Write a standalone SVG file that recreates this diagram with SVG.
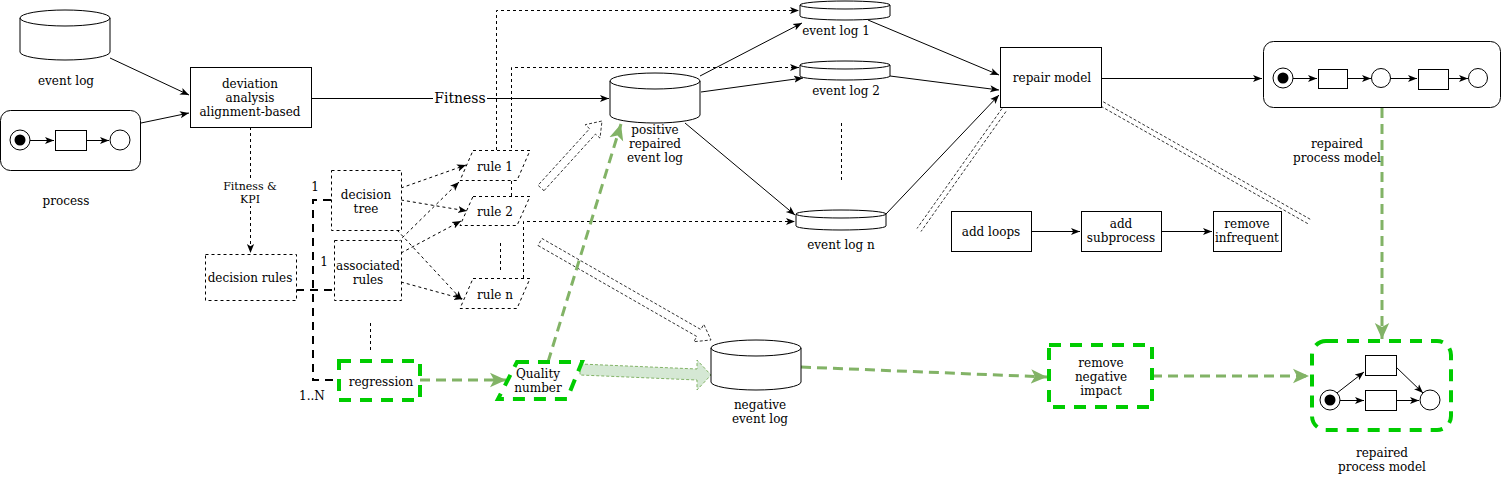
<svg xmlns="http://www.w3.org/2000/svg" width="1502" height="480" viewBox="0 0 1502 480">
<style>
text{font-family:"DejaVu Serif","Liberation Serif",serif;font-size:12px;fill:#000;text-anchor:middle}
.box{fill:#fff;stroke:#000;stroke-width:1}
.dbox{fill:#fff;stroke:#000;stroke-width:1;stroke-dasharray:3 3}
.gbox{fill:#fff;stroke:#00CC00;stroke-width:4;stroke-dasharray:12 9}
.ln{fill:none;stroke:#000;stroke-width:1}
.dl{fill:none;stroke:#000;stroke-width:1;stroke-dasharray:3 3}
.thick{fill:none;stroke:#000;stroke-width:2;stroke-dasharray:8 6}
.gl{fill:none;stroke:#82b366;stroke-width:3;stroke-dasharray:10 6}
.hol{fill:#fff;stroke:#000;stroke-width:0.8;stroke-dasharray:3 2}
.link{fill:none;stroke:#000;stroke-width:0.8;stroke-dasharray:3 2}
</style>
<defs>
<marker id="a" viewBox="0 0 10 10" markerWidth="9" markerHeight="9" markerUnits="userSpaceOnUse" refX="10" refY="5" orient="auto"><path d="M0,1 L10,5 L0,9 L2.5,5 z" fill="#000" stroke="none"/></marker>
<marker id="g" viewBox="0 0 10 10" markerWidth="16" markerHeight="16" markerUnits="userSpaceOnUse" refX="10" refY="5" orient="auto"><path d="M0,0.5 L10,5 L0,9.5 L2.5,5 z" fill="#82b366" stroke="none"/></marker>
</defs>

<g id="connectors">
  <path class="ln" d="M110,58 L189,95" marker-end="url(#a)"/>
  <path class="ln" d="M141,123 L189,113" marker-end="url(#a)"/>
  <path class="ln" d="M311,98.5 L609,98.5" marker-end="url(#a)"/>
  <path class="dl" d="M250.5,127 L250.5,253" marker-end="url(#a)"/>
  <path class="thick" d="M296,290 H334"/>
  <path class="thick" d="M331,200 H313 V380 H337"/>
  <path class="dl" d="M401,188 L466,165" marker-end="url(#a)"/>
  <path class="dl" d="M401,200 L467,211" marker-end="url(#a)"/>
  <path class="dl" d="M397,230 L462,300" marker-end="url(#a)"/>
  <path class="dl" d="M398,242 L459,182" marker-end="url(#a)"/>
  <path class="dl" d="M401,253 L461,221" marker-end="url(#a)"/>
  <path class="dl" d="M401,282 L463,299" marker-end="url(#a)"/>
  <path class="dl" d="M496.5,150 V10.5 H799" marker-end="url(#a)"/>
  <path class="dl" d="M511.5,196 V67.5 H799" marker-end="url(#a)"/>
  <path class="dl" d="M523.5,278 V221.5 H795" marker-end="url(#a)"/>
  <path class="dl" d="M370.5,323 V350"/>
  <path class="dl" d="M500.5,243 V270"/>
  <path class="dl" d="M841.5,123 V180"/>
  <path class="ln" d="M700,76 L802,23" marker-end="url(#a)"/>
  <path class="ln" d="M701,92 L803,78" marker-end="url(#a)"/>
  <path class="ln" d="M685,123 L795,215" marker-end="url(#a)"/>
  <path class="ln" d="M868,20 L999,75" marker-end="url(#a)"/>
  <path class="ln" d="M890,76 L999,90" marker-end="url(#a)"/>
  <path class="ln" d="M886,214 L999,95" marker-end="url(#a)"/>
  <path class="ln" d="M1101,78.5 L1262,78.5" marker-end="url(#a)"/>
  <path class="link" d="M1006,111.5 L921,231.5 M1002,108.5 L917,228.5"/>
  <path class="link" d="M1100.8,106.2 L1308.8,224.2 M1103.2,101.8 L1311.2,219.8"/>
  <path class="ln" d="M1031,231.5 L1080,231.5" marker-end="url(#a)"/>
  <path class="ln" d="M1161,231.5 L1212,231.5" marker-end="url(#a)"/>
  <polygon class="hol" points="544,190.7 595.5,134.1 600,138.1 602,121 585.2,124.7 589.6,128.7 538,185.3"/>
  <polygon class="hol" points="538,245.5 696.8,336.5 693.8,341.7 711,340 703.8,324.3 700.8,329.5 542,238.5"/>
  <path class="gl" d="M420,380 L506,380" marker-end="url(#g)"/>
  <path class="gl" d="M548,362 L621,124" marker-end="url(#g)"/>
  <polygon points="580,364 697,369 697,360 711,375 697,390 697,380 580,375" fill="#d5e8d4" stroke="#82b366" stroke-width="1" stroke-dasharray="3 2"/>
  <path class="gl" d="M801,367 L1047,377" marker-end="url(#g)"/>
  <path class="gl" d="M1152,376 L1309,376" marker-end="url(#g)"/>
  <path class="gl" d="M1382,108 L1382,339" marker-end="url(#g)"/>
</g>

<g id="event-log">
  <path class="box" d="M20,18 A45,8 0 0 1 110,18 V52 A45,8 0 0 1 20,52 Z"/>
  <path class="ln" d="M20,18 A45,8 0 0 0 110,18"/>
  <text x="66" y="85">event log</text>
</g>

<g id="process">
  <rect class="box" x="0.5" y="110.5" width="140" height="60" rx="10"/>
  <circle cx="20" cy="140" r="10" class="box"/>
  <circle cx="20" cy="140" r="5.5" fill="#000"/>
  <rect class="box" x="55.5" y="130.5" width="31" height="20"/>
  <circle cx="120" cy="140" r="10" class="box"/>
  <path class="ln" d="M30,140.5 L54,140.5" marker-end="url(#a)"/>
  <path class="ln" d="M86,140.5 L109,140.5" marker-end="url(#a)"/>
  <text x="66" y="205">process</text>
</g>

<g id="deviation">
  <rect class="box" x="190.5" y="67.5" width="121" height="60"/>
  <text x="250" y="88">deviation</text>
  <text x="250" y="102">analysis</text>
  <text x="250" y="116">alignment-based</text>
</g>

<g id="fitness-label">
  <rect x="433" y="90" width="54" height="16" fill="#fff"/>
  <text x="460" y="103" style="font-size:14px">Fitness</text>
</g>

<g id="fitness-kpi-label">
  <rect x="222" y="180" width="56" height="26" fill="#fff"/>
  <text x="250" y="190" style="font-size:11px">Fitness &amp;</text>
  <text x="250" y="203" style="font-size:11px">KPI</text>
</g>

<g id="decision-rules">
  <rect class="dbox" x="205.5" y="254.5" width="91" height="46"/>
  <text x="250" y="282">decision rules</text>
</g>

<g id="decision-tree">
  <rect class="dbox" x="331.5" y="170.5" width="70" height="60"/>
  <text x="366" y="199">decision</text>
  <text x="366" y="213">tree</text>
</g>

<g id="associated-rules">
  <rect class="dbox" x="334.5" y="240.5" width="67" height="60"/>
  <text x="368" y="270">associated</text>
  <text x="368" y="284">rules</text>
</g>

<g id="multiplicities">
  <text x="315" y="191">1</text>
  <text x="324" y="266">1</text>
  <text x="312" y="400">1..N</text>
</g>

<g id="rule-1">
  <polygon class="dbox" points="473,150.5 530,150.5 517,180.5 460,180.5"/>
  <text x="495" y="171">rule 1</text>
</g>
<g id="rule-2">
  <polygon class="dbox" points="473,196.5 530,196.5 517,225.5 460,225.5"/>
  <text x="495" y="216">rule 2</text>
</g>
<g id="rule-n">
  <polygon class="dbox" points="473,278.5 530,278.5 517,308.5 460,308.5"/>
  <text x="495" y="299">rule n</text>
</g>

<g id="regression">
  <rect class="gbox" x="339" y="361" width="81" height="39"/>
  <text x="381" y="386">regression</text>
</g>

<g id="quality-number">
  <polygon class="gbox" points="517,362 582,362 567,399 498,399"/>
  <text x="538" y="378">Quality</text>
  <text x="538" y="392">number</text>
</g>

<g id="positive-log">
  <path class="box" d="M610,81 A45,8 0 0 1 700,81 V115 A45,8 0 0 1 610,115 Z"/>
  <path class="ln" d="M610,81 A45,8 0 0 0 700,81"/>
  <text x="655" y="134">positive</text>
  <text x="655" y="148">repaired</text>
  <text x="655" y="162">event log</text>
</g>

<g id="event-log-1">
  <path class="box" d="M800,5 A45,4 0 0 1 890,5 V16 A45,4 0 0 1 800,16 Z"/>
  <path class="ln" d="M800,5 A45,4 0 0 0 890,5"/>
  <text x="836" y="35">event log 1</text>
</g>
<g id="event-log-2">
  <path class="box" d="M800,65 A45,4 0 0 1 890,65 V76 A45,4 0 0 1 800,76 Z"/>
  <path class="ln" d="M800,65 A45,4 0 0 0 890,65"/>
  <text x="846" y="95">event log 2</text>
</g>
<g id="event-log-n">
  <path class="box" d="M796,214 A45,4 0 0 1 886,214 V226 A45,4 0 0 1 796,226 Z"/>
  <path class="ln" d="M796,214 A45,4 0 0 0 886,214"/>
  <text x="841" y="249">event log n</text>
</g>

<g id="negative-log">
  <path class="box" d="M711,348 A45,8 0 0 1 801,348 V382 A45,8 0 0 1 711,382 Z"/>
  <path class="ln" d="M711,348 A45,8 0 0 0 801,348"/>
  <text x="760" y="409">negative</text>
  <text x="760" y="423">event log</text>
</g>

<g id="repair-model">
  <rect class="box" x="1000.5" y="47.5" width="101" height="60"/>
  <text x="1052" y="82">repair model</text>
</g>

<g id="add-loops">
  <rect class="box" x="951.5" y="211.5" width="80" height="40"/>
  <text x="991" y="236">add loops</text>
</g>
<g id="add-subprocess">
  <rect class="box" x="1081.5" y="211.5" width="80" height="40"/>
  <text x="1121" y="228">add</text>
  <text x="1121" y="242">subprocess</text>
</g>
<g id="remove-infrequent">
  <rect class="box" x="1213.5" y="211.5" width="68" height="40"/>
  <text x="1247" y="228">remove</text>
  <text x="1247" y="242">infrequent</text>
</g>

<g id="repaired-model-top">
  <rect class="box" x="1263.5" y="41.5" width="237" height="66" rx="10"/>
  <circle cx="1283" cy="78" r="10" class="box"/>
  <circle cx="1283" cy="78" r="5.5" fill="#000"/>
  <rect class="box" x="1318.5" y="69.5" width="29" height="19"/>
  <circle cx="1381" cy="78" r="9.5" class="box"/>
  <rect class="box" x="1418.5" y="69.5" width="30" height="20"/>
  <circle cx="1478" cy="78" r="9.5" class="box"/>
  <path class="ln" d="M1293,78.5 L1317,78.5" marker-end="url(#a)"/>
  <path class="ln" d="M1347,78.5 L1371,78.5" marker-end="url(#a)"/>
  <path class="ln" d="M1390.5,78.5 L1417,78.5" marker-end="url(#a)"/>
  <path class="ln" d="M1448,78.5 L1468,78.5" marker-end="url(#a)"/>
  <text x="1337" y="148">repaired</text>
  <text x="1337" y="162">process model</text>
</g>

<g id="remove-negative-impact">
  <rect class="gbox" x="1049" y="345" width="103" height="62"/>
  <text x="1101" y="367">remove</text>
  <text x="1101" y="381">negative</text>
  <text x="1101" y="395">impact</text>
</g>

<g id="repaired-model-bottom">
  <rect class="gbox" x="1312" y="341" width="139" height="89" rx="14"/>
  <circle cx="1330" cy="400" r="10" class="box"/>
  <circle cx="1330" cy="400" r="5.5" fill="#000"/>
  <rect class="box" x="1365.5" y="355.5" width="31" height="20"/>
  <rect class="box" x="1365.5" y="390.5" width="31" height="20"/>
  <circle cx="1430" cy="400" r="10" class="box"/>
  <path class="ln" d="M1337,393 L1364,372" marker-end="url(#a)"/>
  <path class="ln" d="M1340,400.5 L1364,400.5" marker-end="url(#a)"/>
  <path class="ln" d="M1396,367 L1423,393" marker-end="url(#a)"/>
  <path class="ln" d="M1396,400.5 L1419,400.5" marker-end="url(#a)"/>
  <text x="1382" y="457">repaired</text>
  <text x="1382" y="471">process model</text>
</g>
</svg>
